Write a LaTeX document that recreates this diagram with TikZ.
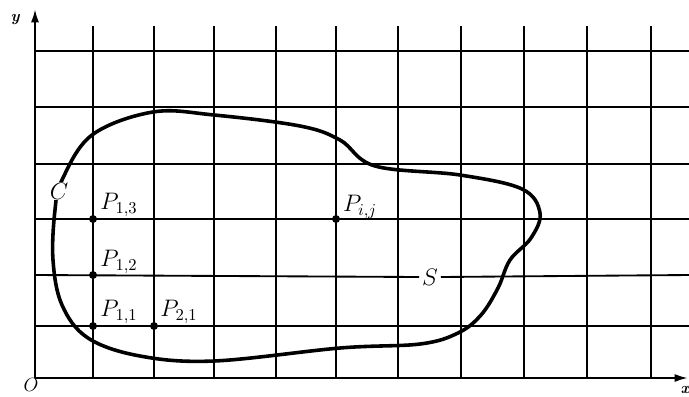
\documentclass[tikz,border=0pt]{standalone}
\usepackage{graphicx}
\usetikzlibrary{arrows.meta}
\newcommand\mylbl[1]{\scalebox{1.25}{$#1$}}
\begin{document}
\begin{tikzpicture}[x=0.0265cm,y=-0.0265cm,
  gridline/.style={line width=1.4pt},
  axisline/.style={line width=1.6pt,-{Latex[length=10pt,width=6pt]}},
  curveline/.style={line width=2.7pt,line join=round},
  dot/.style={circle,fill=black,inner sep=0pt,minimum size=6pt},
  lab/.style={font=\fontsize{14.4}{17}\selectfont,inner sep=1pt},
  slab/.style={font=\large\bfseries\itshape,inner sep=1pt}]
\useasboundingbox (0,0) rectangle (689,396);
% vertical grid lines
\foreach \x in {93,154,214,276,336,398,461,524,587,651}
  \draw[gridline] (\x,26) -- (\x,378);
% horizontal grid lines
\foreach \y in {51,107,164,219,326}
  \draw[gridline] (35,\y) -- (689,\y);
\coordinate (sl) at (35,275);
\coordinate (sr) at (689,275);
\node[lab,fill=white,inner sep=2pt] (S) at (430,277) {\mylbl{S}};
\draw[gridline] (sl) -- (S.west);
\draw[gridline] (S.east) -- (sr);
% axes
\coordinate (O) at (35,378);
\coordinate (ytop) at (35,9);
\coordinate (xend) at (688,378);
\draw[axisline] (O) -- (ytop);
\draw[axisline] (O) -- (xend);
% curve
\draw[curveline] plot[smooth cycle,tension=0.6] coordinates {
 (62,180) (92,135) (153,112) (214,115) (300,126) (340,140) (375,166)
 (460,175) (522,189) (540,213) (531,238) (510,260) (498,288) (481,315)
 (458,333) (420,344) (340,348) (214,361) (140,356) (88,338) (62,305)
 (53,260) (55,210)};
% points
\node[dot] (p13) at (93,219) {};
\node[dot] (p12) at (93,275) {};
\node[dot] (p11) at (93,326) {};
\node[dot] (p21) at (154,326) {};
\node[dot] (pij) at (336,219) {};
% labels
\node[lab] (l13) at (119,205) {\mylbl{P_{1,3}}};
\node[lab] (l12) at (119,262) {\mylbl{P_{1,2}}};
\node[lab] (l11) at (119,312) {\mylbl{P_{1,1}}};
\node[lab] (l21) at (179,312) {\mylbl{P_{2,1}}};
\node[lab] (lij) at (360,207) {\mylbl{P_{i,j}}};
\node[lab,fill=white,inner sep=0.5pt] (C) at (59,191) {\mylbl{C}};
\node[slab] (ylab) at (15,20) {y};
\node[lab,inner sep=0pt] (Olab) at (31,385) {$O$};
\node[slab] (xlab) at (685,390) {x};
\end{tikzpicture}
\end{document}
